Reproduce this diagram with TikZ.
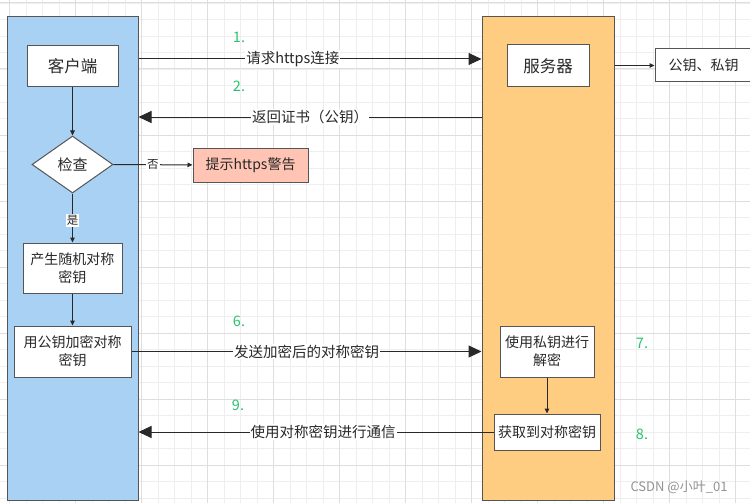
\documentclass[tikz,border=0pt]{standalone}
\usepackage{fontspec}
\setmainfont{Noto Sans CJK SC}
\usetikzlibrary{shapes.geometric,arrows.meta}
\definecolor{laneblue}{RGB}{169,209,244}
\definecolor{laneorange}{RGB}{255,205,130}
\definecolor{warnfill}{RGB}{255,196,180}
\definecolor{stepgreen}{RGB}{40,195,110}
\definecolor{linec}{RGB}{40,40,40}
\definecolor{boxline}{RGB}{85,85,85}
\definecolor{gridminor}{RGB}{238,238,238}
\definecolor{gridmajor}{RGB}{222,222,222}
\begin{document}
\begin{tikzpicture}[x=1pt,y=-1pt,
 lane/.style={draw=boxline, line width=1pt, inner sep=0},
 box/.style={draw=boxline, fill=white, line width=1pt, align=center, inner sep=0, text=linec, font=\fontsize{14}{18}\selectfont},
 bigarrow/.style={draw=linec, line width=1pt, -{Triangle[length=13pt,width=12pt]}},
 smallarrow/.style={draw=linec, line width=1pt, -{Triangle[length=5pt,width=4.5pt]}},
 lbl/.style={fill=white, inner sep=1pt, text=linec, font=\fontsize{14.5}{16}\selectfont},
 smalllbl/.style={fill=white, inner sep=1pt, text=linec, font=\fontsize{11.5}{13}\selectfont},
 stepnum/.style={text=stepgreen, font=\fontsize{14.5}{16}\selectfont},
]
\useasboundingbox (0,0) rectangle (750,503);
\clip (0,0) rectangle (750,503);
\fill[white] (0,0) rectangle (750,503);
% grid
\foreach \k in {-1,...,45} {
  \draw[gridminor, line width=0.8pt] ({9.6+16.5*\k},0) -- ({9.6+16.5*\k},503);
  \draw[gridminor, line width=0.8pt] (0,{3+16.5*\k}) -- (750,{3+16.5*\k});
}
\foreach \k in {-1,...,12} {
  \draw[gridmajor, line width=1pt] ({9.6+66*\k},0) -- ({9.6+66*\k},503);
  \draw[gridmajor, line width=1pt] (0,{3+66*\k}) -- (750,{3+66*\k});
}
% lanes
\node[lane, fill=laneblue, minimum width=131pt, minimum height=483pt] (clientlane) at (72.5,258.5) {};
\node[lane, fill=laneorange, minimum width=132pt, minimum height=483pt] (serverlane) at (548,258.5) {};
% boxes
\node[box, minimum width=91pt, minimum height=41pt, font=\fontsize{16.5}{19}\selectfont] (client) at (72.5,66.5) {客户端};
\node[box, minimum width=82pt, minimum height=42pt, font=\fontsize{16.5}{19}\selectfont] (server) at (548,66) {服务器};
\node[box, minimum width=97pt, minimum height=33pt] (keys) at (703.5,65.5) {公钥、私钥};
\node[box, diamond, aspect=1.42, minimum width=81pt, minimum height=57pt, font=\fontsize{15}{17}\selectfont] (check) at (72.5,164.5) {检查};
\node[box, fill=warnfill, minimum width=115pt, minimum height=34pt] (warn) at (250.5,165) {提示https警告};
\node[box, minimum width=99pt, minimum height=50pt] (gen) at (72.5,268) {产生随机对称\\密钥};
\node[box, minimum width=117pt, minimum height=51pt] (enc) at (72.5,351.5) {用公钥加密对称\\密钥};
\node[box, minimum width=94pt, minimum height=51pt] (dec) at (547,351.5) {使用私钥进行\\解密};
\node[box, minimum width=106pt, minimum height=36pt] (got) at (547,432) {获取到对称密钥};
% flow inside client
\draw[smallarrow] (client) -- (check);
\draw[smallarrow] (check) -- node[smalllbl, pos=0.5] {否} (warn);
\draw[smallarrow] (check) -- node[smalllbl, pos=0.55] {是} (gen);
\draw[smallarrow] (gen) -- (enc);
\draw[smallarrow] (dec) -- (got);
\draw[smallarrow] (serverlane.east |- keys.west) -- (keys.west);
% messages
\coordinate (m1) at (0,59);
\coordinate (m2) at (0,117);
\draw[bigarrow] (clientlane.east |- m1) -- node[lbl, pos=0.45] {请求https连接} (serverlane.west |- m1);
\draw[bigarrow] (serverlane.west |- m2) -- node[lbl, pos=0.5] {返回证书（公钥）} (clientlane.east |- m2);
\draw[bigarrow] (enc.east) -- node[lbl, pos=0.5] {发送加密后的对称密钥} (serverlane.west |- enc.east);
\draw[bigarrow] (got.west) -- node[lbl, pos=0.48] {使用对称密钥进行通信} (clientlane.east |- got.west);
% step numbers
\node[stepnum] (s1) at (239,37) {1.};
\node[stepnum] (s2) at (239,86) {2.};
\node[stepnum] (s6) at (239,321) {6.};
\node[stepnum] (s9) at (238,405) {9.};
\node[stepnum] (s7) at (642,343) {7.};
\node[stepnum] (s8) at (642,434) {8.};
% watermark
\node[text=gray!85, font=\fontsize{13}{15}\selectfont] (wm) at (679,487) {CSDN @小叶\_01};
\end{tikzpicture}
\end{document}
